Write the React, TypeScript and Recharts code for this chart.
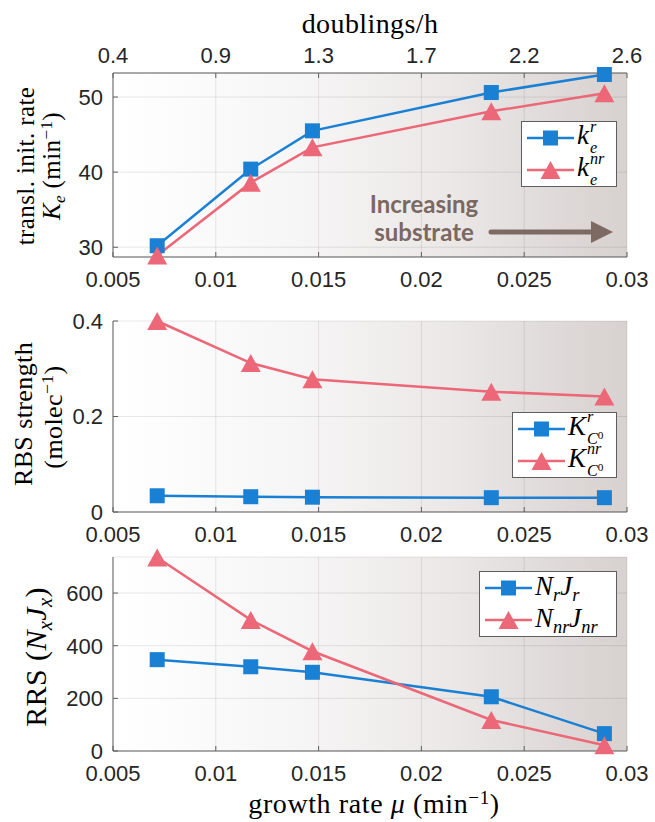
import type { ReactNode } from "react";
import { CartesianGrid, Line, LineChart, XAxis, YAxis } from "recharts";

// growth rate mu (min^-1) of the five conditions
const GROWTH_RATE = [0.00715, 0.0117, 0.0147, 0.0234, 0.0289];

// translation initiation rate K_e (min^-1)
const KE_R = [30.2, 40.4, 45.5, 50.6, 53.0];
const KE_NR = [28.9, 38.6, 43.3, 48.1, 50.5];

// RBS strength (molec^-1)
const KC0_R = [0.034, 0.032, 0.031, 0.03, 0.03];
const KC0_NR = [0.4, 0.312, 0.278, 0.252, 0.242];

// RRS (N_x J_x)
const RRS_R = [347, 320, 299, 206, 66];
const RRS_NR = [735, 498, 379, 118, 22];

const MU_TICKS = [0.005, 0.01, 0.015, 0.02, 0.025, 0.03];
const DOUBLING_LABELS = ["0.4", "0.9", "1.3", "1.7", "2.2", "2.6"];
const KE_TICKS = [30, 40, 50];
const KC0_TICKS = [0, 0.2, 0.4];
const RRS_TICKS = [0, 200, 400, 600];

const BLUE = "#1a80d4";
const PINK = "#ec6777";
const AXIS = "#5e5e5e";
const TICK_COLOR = "#262626";
const SANS = "'Liberation Sans', Arial, sans-serif";
const SERIF = "'Liberation Serif', 'Times New Roman', serif";

const MU_DOMAIN: [number, number] = [0.005, 0.03];
const tickStyle = { fontSize: 22, fill: TICK_COLOR, fontFamily: SANS };

const toRows = (a: number[], b: number[]) =>
  GROWTH_RATE.map((mu, i) => ({ mu, r: a[i], nr: b[i] }));

const squareDot = (color: string) => (props: any) => {
  const { cx, cy, index } = props;
  if (cx == null || cy == null) return <g key={index} />;
  return <rect key={index} x={cx - 7.5} y={cy - 7.5} width={15} height={15} fill={color} />;
};

const triangleDot = (color: string) => (props: any) => {
  const { cx, cy, index } = props;
  if (cx == null || cy == null) return <g key={index} />;
  return (
    <polygon
      key={index}
      points={`${cx},${cy - 9} ${cx + 10},${cy + 9} ${cx - 10},${cy + 9}`}
      fill={color}
    />
  );
};

// stacked super/subscript pair, like LaTeX k_e^r
function Scripts({ sup, sub }: { sup?: ReactNode; sub?: ReactNode }) {
  return (
    <span
      style={{
        display: "inline-flex",
        flexDirection: "column",
        verticalAlign: "middle",
        fontSize: "0.6em",
        lineHeight: 1.3,
        marginLeft: 1,
      }}
    >
      <span>{sup ?? "\u00a0"}</span>
      <span>{sub ?? "\u00a0"}</span>
    </span>
  );
}

const Sub = ({ children }: { children: ReactNode }) => (
  <span style={{ fontSize: "0.68em", verticalAlign: "-0.3em" }}>{children}</span>
);
const Sup = ({ children }: { children: ReactNode }) => (
  <span style={{ fontSize: "0.68em", verticalAlign: "0.5em" }}>{children}</span>
);

function LegendSwatch({ color, shape }: { color: string; shape: "square" | "triangle" }) {
  return (
    <svg width={47} height={24} style={{ display: "block", flex: "none" }}>
      <line x1={0} y1={12} x2={47} y2={12} stroke={color} strokeWidth={2.5} />
      {shape === "square" ? (
        <rect x={16} y={4.5} width={15} height={15} fill={color} />
      ) : (
        <polygon points="23.5,3 33.5,21 13.5,21" fill={color} />
      )}
    </svg>
  );
}

function LegendBox({
  left,
  top,
  width,
  items,
}: {
  left: number;
  top: number;
  width: number;
  items: { color: string; shape: "square" | "triangle"; label: ReactNode }[];
}) {
  return (
    <div
      style={{
        position: "absolute",
        left,
        top,
        width,
        height: 66,
        boxSizing: "border-box",
        background: "#fff",
        border: `1px solid ${AXIS}`,
        padding: "0 0 0 5px",
        display: "flex",
        flexDirection: "column",
        justifyContent: "center",
        fontFamily: SERIF,
        fontSize: 27,
        color: "#000",
      }}
    >
      {items.map((it, i) => (
        <div key={i} style={{ display: "flex", alignItems: "center", height: 32, gap: 3 }}>
          <LegendSwatch color={it.color} shape={it.shape} />
          <span style={{ whiteSpace: "nowrap", lineHeight: 1 }}>{it.label}</span>
        </div>
      ))}
    </div>
  );
}

function RotatedLabel({ x, y, size, children }: { x: number; y: number; size: number; children: ReactNode }) {
  return (
    <div
      style={{
        position: "absolute",
        left: x,
        top: y,
        transform: "translate(-50%, -50%) rotate(-90deg)",
        whiteSpace: "nowrap",
        fontFamily: SERIF,
        fontSize: size,
        letterSpacing: 0.4,
        color: "#000",
        lineHeight: 1,
      }}
    >
      {children}
    </div>
  );
}

function Panel({
  id,
  rows,
  yDomain,
  yTicks,
  height,
  marginTop,
  topLabels,
}: {
  id: string;
  rows: { mu: number; r: number; nr: number }[];
  yDomain: [number, number];
  yTicks: number[];
  height: number;
  marginTop: number;
  topLabels: boolean;
}) {
  return (
    <LineChart width={655} height={height} data={rows} margin={{ top: marginTop, right: 28, bottom: 0, left: 0 }}>
      <defs>
        <linearGradient id={`bg-${id}`} x1="0" y1="0" x2="1" y2="0">
          <stop offset="0%" stopColor="#ffffff" />
          <stop offset="35%" stopColor="#f7f6f6" />
          <stop offset="65%" stopColor="#ebe8e7" />
          <stop offset="100%" stopColor="#d7d1cf" />
        </linearGradient>
      </defs>
      <CartesianGrid fill={`url(#bg-${id})`} stroke="rgba(0,0,0,0.09)" />
      <XAxis
        dataKey="mu"
        type="number"
        domain={MU_DOMAIN}
        ticks={MU_TICKS}
        interval={0}
        height={35}
        tickSize={-5}
        tickMargin={19}
        tick={tickStyle}
        axisLine={{ stroke: AXIS }}
        tickLine={{ stroke: AXIS }}
      />
      <XAxis
        xAxisId="top"
        dataKey="mu"
        orientation="top"
        type="number"
        domain={MU_DOMAIN}
        ticks={MU_TICKS}
        interval={0}
        allowDataOverflow
        height={topLabels ? 73 : 0}
        tickSize={-5}
        tickMargin={15}
        tick={topLabels ? tickStyle : false}
        tickFormatter={(v: number) => DOUBLING_LABELS[MU_TICKS.indexOf(v)] ?? ""}
        axisLine={{ stroke: AXIS }}
        tickLine={{ stroke: AXIS }}
      />
      <YAxis
        type="number"
        domain={yDomain}
        ticks={yTicks}
        interval={0}
        width={113}
        tickSize={-5}
        tickMargin={15}
        tick={tickStyle}
        axisLine={{ stroke: AXIS }}
        tickLine={{ stroke: AXIS }}
      />
      <YAxis
        yAxisId="right"
        orientation="right"
        type="number"
        domain={yDomain}
        ticks={yTicks}
        interval={0}
        allowDataOverflow
        width={0}
        tickSize={-5}
        tick={false}
        axisLine={{ stroke: AXIS }}
        tickLine={{ stroke: AXIS }}
      />
      {/* invisible series so the mirrored top/right axes get a scale */}
      <Line
        xAxisId="top"
        yAxisId="right"
        dataKey="r"
        stroke="transparent"
        dot={false}
        activeDot={false}
        legendType="none"
        isAnimationActive={false}
      />
      <Line
        dataKey="r"
        stroke={BLUE}
        strokeWidth={2.5}
        dot={squareDot(BLUE)}
        activeDot={false}
        isAnimationActive={false}
      />
      <Line
        dataKey="nr"
        stroke={PINK}
        strokeWidth={2.5}
        dot={triangleDot(PINK)}
        activeDot={false}
        isAnimationActive={false}
      />
    </LineChart>
  );
}

const cZero = (
  <>
    <i>C</i>
    <span style={{ fontSize: "0.7em", verticalAlign: "0.45em" }}>0</span>
  </>
);

export default function App() {
  return (
    <div
      style={{
        position: "absolute",
        left: 0,
        top: 0,
        width: 655,
        height: 822,
        background: "#fff",
        overflow: "hidden",
        fontFamily: SERIF,
      }}
    >
      {/* top panel */}
      <div style={{ position: "absolute", left: 0, top: 0 }}>
        <Panel
          id="ke"
          rows={toRows(KE_R, KE_NR)}
          yDomain={[28.7, 53.2]}
          yTicks={KE_TICKS}
          height={292}
          marginTop={0}
          topLabels
        />
      </div>
      {/* middle panel */}
      <div style={{ position: "absolute", left: 0, top: 292 }}>
        <Panel
          id="kc0"
          rows={toRows(KC0_R, KC0_NR)}
          yDomain={[0, 0.4]}
          yTicks={KC0_TICKS}
          height={255}
          marginTop={29}
          topLabels={false}
        />
      </div>
      {/* bottom panel */}
      <div style={{ position: "absolute", left: 0, top: 547 }}>
        <Panel
          id="rrs"
          rows={toRows(RRS_R, RRS_NR)}
          yDomain={[0, 737]}
          yTicks={RRS_TICKS}
          height={239}
          marginTop={10}
          topLabels={false}
        />
      </div>

      {/* axis titles */}
      <div
        style={{
          position: "absolute",
          left: 370,
          top: 24,
          transform: "translate(-50%, -50%)",
          fontSize: 28,
          letterSpacing: 0.4,
          whiteSpace: "nowrap",
          lineHeight: 1,
        }}
      >
        doublings/h
      </div>
      <div
        style={{
          position: "absolute",
          left: 374,
          top: 803,
          transform: "translate(-50%, -50%)",
          fontSize: 28,
          letterSpacing: 0.6,
          whiteSpace: "nowrap",
          lineHeight: 1,
        }}
      >
        growth rate <i>μ</i> (min<Sup>−1</Sup>)
      </div>
      <RotatedLabel x={25} y={166} size={25}>
        transl. init. rate
      </RotatedLabel>
      <RotatedLabel x={53} y={166} size={25}>
        <i>K</i>
        <Sub>
          <i>e</i>
        </Sub>{" "}
        (min<Sup>−1</Sup>)
      </RotatedLabel>
      <RotatedLabel x={24} y={414} size={26}>
        RBS strength
      </RotatedLabel>
      <RotatedLabel x={53} y={417} size={26}>
        (molec<Sup>−1</Sup>)
      </RotatedLabel>
      <RotatedLabel x={38} y={657} size={30}>
        RRS (<i>N</i>
        <Sub>
          <i>x</i>
        </Sub>
        <i>J</i>
        <Sub>
          <i>x</i>
        </Sub>
        )
      </RotatedLabel>

      {/* legends */}
      <LegendBox
        left={521}
        top={121}
        width={96}
        items={[
          { color: BLUE, shape: "square", label: <><i>k</i><Scripts sup={<i>r</i>} sub={<i>e</i>} /></> },
          { color: PINK, shape: "triangle", label: <><i>k</i><Scripts sup={<i>nr</i>} sub={<i>e</i>} /></> },
        ]}
      />
      <LegendBox
        left={512}
        top={412}
        width={105}
        items={[
          { color: BLUE, shape: "square", label: <><i>K</i><Scripts sup={<i>r</i>} sub={cZero} /></> },
          { color: PINK, shape: "triangle", label: <><i>K</i><Scripts sup={<i>nr</i>} sub={cZero} /></> },
        ]}
      />
      <LegendBox
        left={479}
        top={571}
        width={138}
        items={[
          {
            color: BLUE,
            shape: "square",
            label: (
              <>
                <i>N</i><Sub><i>r</i></Sub>
                <i>J</i><Sub><i>r</i></Sub>
              </>
            ),
          },
          {
            color: PINK,
            shape: "triangle",
            label: (
              <>
                <i>N</i><Sub><i>nr</i></Sub>
                <i>J</i><Sub><i>nr</i></Sub>
              </>
            ),
          },
        ]}
      />

      {/* annotation */}
      <div
        style={{
          position: "absolute",
          left: 424,
          top: 190,
          transform: "translateX(-50%)",
          textAlign: "center",
          fontFamily: "Lato, 'Open Sans', sans-serif",
          fontWeight: 700,
          fontSize: 24,
          lineHeight: "28px",
          color: "#7a6861",
          whiteSpace: "nowrap",
        }}
      >
        Increasing
        <br />
        substrate
      </div>
      <svg style={{ position: "absolute", left: 0, top: 0 }} width={655} height={300}>
        <line x1={491} y1={232} x2={594} y2={232} stroke="#7d6a63" strokeWidth={5} strokeLinecap="round" />
        <polygon points="591,221 613,232 591,243" fill="#7d6a63" />
      </svg>
    </div>
  );
}
